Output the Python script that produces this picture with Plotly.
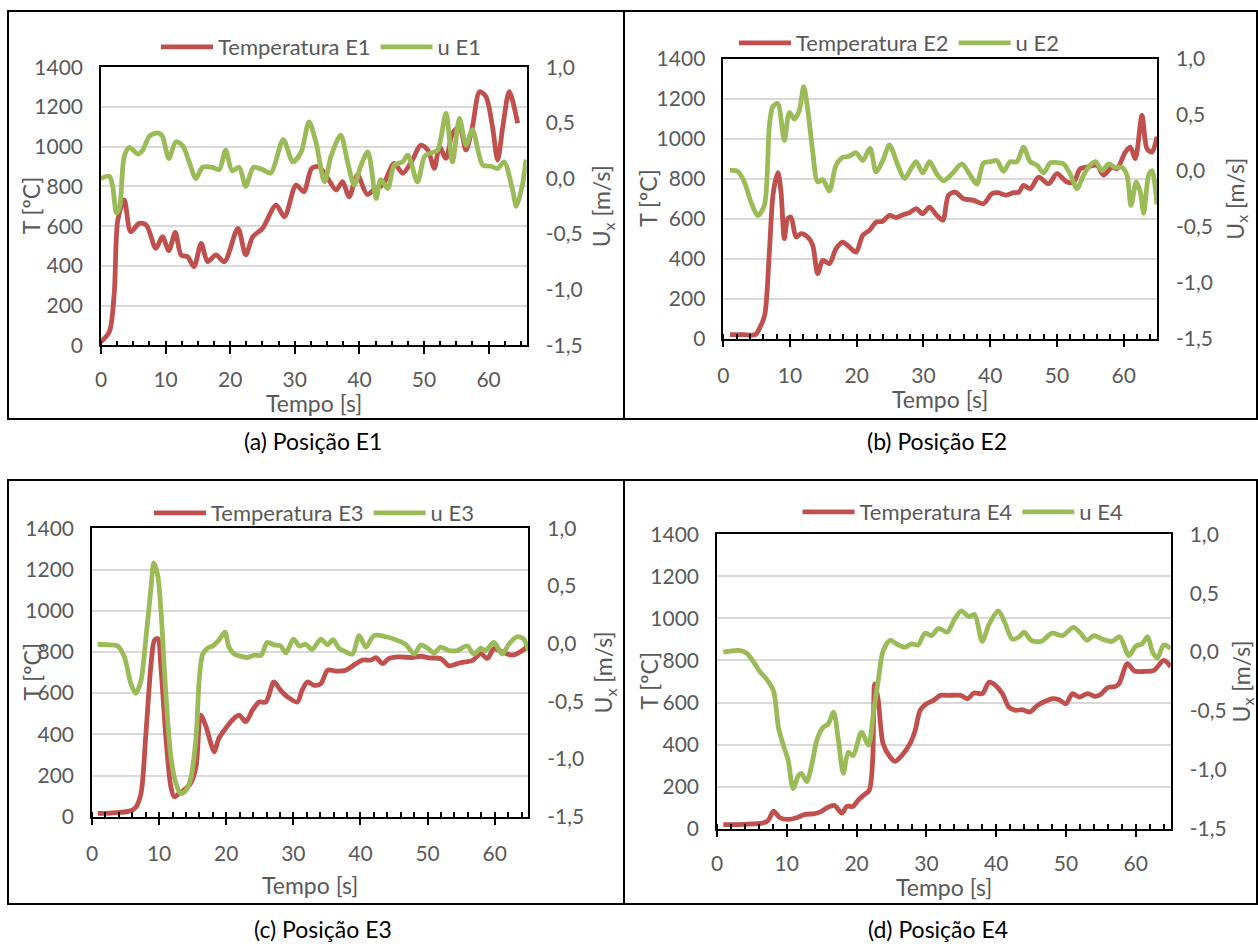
import plotly.graph_objects as go

W, H = 1258, 944
FONT = "Lato, 'Open Sans', sans-serif"
GRAY = "#595959"
RED = "#C0504D"
GREEN = "#9BBB59"

# ---------------- data ----------------
# Panel (a) Posição E1
t_a_temp = [0, 1.3, 2.05, 2.6, 3.6, 4.6, 5.9, 7.0, 8.5, 9.5, 10.5, 11.5, 12.4, 13.4, 14.4, 15.5, 16.5, 17.8,
            19.1, 21.2, 22.4, 23.5, 25.0, 27.1, 28.4, 30.2, 31.4, 32.6, 33.7, 35.1, 36.4, 37.4, 38.4, 39.7,
            41.2, 42.5, 43.6, 45.4, 46.7, 48.2, 49.5, 50.6, 51.6, 52.4, 53.4, 54.4, 55.5, 56.5, 57.5, 58.6,
            59.6, 60.6, 61.4, 62.2, 63.2, 64.5]
temp_a = [18, 69, 262, 631, 732, 572, 614, 606, 488, 547, 477, 569, 455, 446, 396, 513, 421, 455,
          421, 589, 455, 547, 589, 706, 648, 807, 774, 890, 900, 841, 782, 824, 748, 857,
          760, 790, 807, 916, 866, 933, 1008, 983, 891, 1000, 941, 1067, 1101, 983, 1101, 1277,
          1252, 1101, 933, 1101, 1277, 1118]
t_a_u = [0, 1.3, 1.8, 2.4, 2.9, 3.6, 4.4, 5.7, 6.45, 7.5, 8.8, 9.5, 10.5, 11.6, 12.7, 13.7, 14.7, 15.7,
         17.3, 18.3, 19.3, 20.3, 21.4, 22.4, 23.6, 25.0, 26.3, 28.2, 29.7, 31.0, 32.2, 33.3, 34.6, 35.6,
         37.1, 38.2, 39.2, 40.2, 41.3, 42.6, 43.3, 44.4, 45.4, 46.7, 47.5, 49.0, 50.1, 51.1, 52.1, 53.4,
         54.4, 55.5, 56.5, 57.5, 59.1, 60.4, 61.4, 62.4, 63.7, 64.3, 65.2, 65.8]
u_a = [0.0, 0.02, -0.07, -0.31, -0.25, 0.2, 0.28, 0.22, 0.255, 0.38, 0.41, 0.38, 0.18, 0.33, 0.29, 0.14, 0.0, 0.1,
       0.1, 0.08, 0.255, 0.07, 0.1, -0.07, 0.1, 0.08, 0.05, 0.35, 0.15, 0.24, 0.51, 0.32, -0.03, 0.2,
       0.39, 0.14, -0.06, 0.11, 0.24, -0.18, -0.01, -0.09, 0.12, 0.15, 0.21, -0.03, 0.2, 0.23, 0.255, 0.585,
       0.15, 0.54, 0.3, 0.44, 0.12, 0.11, 0.09, 0.15, -0.1, -0.25, -0.07, 0.17]

# Panel (b) Posição E2
t_b_temp = [1, 3, 4.8, 5.4, 6.2, 6.9, 7.5, 8.2, 8.65, 9.15, 9.65, 10.15, 10.9, 11.65, 12.65, 13.4, 14.15,
            14.9, 15.9, 16.9, 17.9, 18.9, 19.9, 20.9, 21.9, 22.9, 23.9, 24.9, 25.9, 26.9, 27.9, 28.9, 29.9,
            30.9, 32.0, 32.9, 33.75, 34.75, 36.0, 37.5, 39.0, 40.25, 41.2, 42.3, 43.5, 44.3, 45.0, 46.0, 47.25,
            48.75, 50.0, 51.5, 52.5, 53.5, 54.5, 56.0, 57.0, 58.25, 59.0, 60.25, 61.0, 61.75, 62.75, 63.5,
            64.25, 65.0]
temp_b = [20, 20, 20, 50, 117, 433, 733, 830, 733, 500, 600, 608, 508, 525, 508, 467, 325,
          392, 375, 450, 483, 458, 433, 517, 542, 583, 587, 617, 605, 620, 630, 650, 625,
          658, 617, 592, 717, 733, 700, 692, 675, 725, 730, 718, 730, 733, 767, 750, 808,
          775, 825, 783, 783, 850, 858, 867, 817, 858, 850, 933, 958, 900, 1117, 950,
          933, 1010]
t_b_u = [1, 2.15, 3.15, 4.15, 5.15, 6.15, 6.9, 7.4, 8.15, 9.15, 9.9, 10.65, 11.4, 12.05, 12.65, 13.4, 14.15,
         14.9, 15.9, 16.9, 17.9, 18.9, 19.9, 20.9, 22.0, 22.9, 23.9, 24.9, 26.15, 27.15, 28.15, 28.9, 29.9,
         30.9, 32.0, 33.0, 34.25, 35.75, 37.0, 38.0, 39.0, 40.0, 41.0, 42.0, 43.0, 44.0, 45.0, 46.0, 47.0,
         48.0, 49.0, 50.25, 51.0, 52.0, 53.0, 54.0, 55.0, 55.85, 56.75, 57.75, 58.75, 59.75, 60.5, 61.1,
         61.9, 62.5, 63.0, 63.75, 64.25, 65.0]
u_b = [0.003, -0.005, -0.10, -0.28, -0.40, -0.31, 0.40, 0.57, 0.60, 0.27, 0.52, 0.46, 0.54, 0.75, 0.55, 0.17, -0.10,
       -0.08, -0.18, 0.05, 0.12, 0.13, 0.16, 0.09, 0.20, -0.01, 0.09, 0.23, 0.05, -0.07, 0.02, 0.08, -0.02,
       0.08, -0.03, -0.09, -0.03, 0.06, -0.04, -0.12, 0.07, 0.08, 0.09, -0.005, 0.08, 0.08, 0.21, 0.08, 0.05,
       -0.02, 0.07, 0.07, 0.06, -0.03, -0.16, -0.04, 0.05, 0.08, 0.0, 0.06, 0.03, 0.03, -0.04, -0.31,
       -0.10, -0.19, -0.38, -0.04, 0.0, -0.30]

# Panel (c) Posição E3
t_c_temp = [0.85, 3.1, 5.6, 6.5, 7.3, 8.0, 8.8, 9.3, 9.8, 10.3, 11.0, 11.75, 12.25, 13.0, 13.7, 14.7, 15.5,
            16.2, 17.0, 17.7, 18.2, 18.9, 19.9, 20.9, 21.9, 22.9, 23.9, 24.9, 25.9, 27.1, 28.1, 29.1, 30.6,
            31.3, 32.1, 33.1, 34.1, 35.1, 36.3, 37.8, 39.0, 40.3, 41.5, 42.3, 43.3, 44.2, 45.7, 47.7, 49.0,
            50.2, 52.0, 53.2, 54.7, 56.7, 57.9, 58.9, 59.9, 61.1, 62.6, 63.8, 64.8]
temp_c = [16, 19, 27, 45, 113, 388, 743, 856, 865, 711, 388, 145, 97, 113, 129, 162, 242,
          493, 436, 356, 315, 380, 428, 469, 493, 461, 517, 557, 557, 654, 614, 582, 557,
          614, 654, 638, 646, 711, 707, 711, 736, 760, 760, 772, 743, 767, 776, 772, 779,
          771, 767, 732, 746, 759, 792, 768, 816, 800, 784, 800, 824]
t_c_u = [0.85, 2.6, 3.8, 4.8, 5.8, 6.5, 7.3, 8.0, 8.8, 9.2, 9.8, 10.3, 11.0, 11.75, 12.5, 13.2, 14.0, 14.7,
         15.5, 16.0, 16.5, 17.2, 18.0, 18.9, 19.8, 20.4, 21.2, 22.2, 23.2, 24.2, 25.2, 26.1, 27.1, 28.1,
         28.9, 30.0, 30.9, 31.85, 32.8, 34.1, 35.1, 35.9, 36.8, 37.8, 38.8, 39.8, 40.8, 42.0, 43.8, 45.2,
         46.7, 48.0, 49.0, 50.0, 51.0, 51.9, 53.2, 54.4, 55.9, 56.9, 57.9, 58.6, 59.9, 61.1, 62.1, 63.3,
         64.3, 65.0]
u_c = [-0.005, -0.01, -0.02, -0.11, -0.35, -0.43, -0.32, 0.03, 0.49, 0.70, 0.59, 0.26, -0.43, -0.98, -1.21, -1.30,
       -1.27, -1.17, -0.81, -0.29, -0.09, -0.04, -0.02, 0.03, 0.10, -0.03, -0.09, -0.11, -0.12, -0.10, -0.10,
       0.01, -0.01, -0.02, -0.08, 0.04, -0.02, -0.005, -0.05, 0.04, -0.01, 0.035, -0.04, -0.07, -0.09, 0.07,
       -0.03, 0.07, 0.06, 0.035, -0.005, -0.09, -0.01, -0.04, -0.08, -0.03, -0.06, -0.06, -0.02, -0.09, -0.04,
       -0.06, 0.01, -0.09, -0.005, 0.06, 0.04, -0.06]

# Panel (d) Posição E4
t_d_temp = [0.9, 3.8, 6.6, 7.35, 8.1, 9.0, 10.2, 11.4, 12.6, 13.8, 14.75, 15.7, 16.8, 17.9, 18.6, 19.5, 20.2,
            20.95, 21.8, 22.3, 22.6, 23.1, 23.8, 24.8, 25.5, 26.5, 27.65, 28.4, 29.1, 30.0, 31.0, 32.0, 33.2,
            34.9, 35.9, 36.8, 38.0, 39.0, 39.9, 40.9, 41.8, 42.8, 43.7, 44.8, 45.9, 47.1, 48.0, 49.0, 50.0,
            50.9, 51.9, 53.1, 54.2, 55.0, 55.9, 57.1, 57.6, 58.8, 59.8, 61.2, 62.6, 64.0, 65.0]
temp_d = [19, 21, 27, 40, 84, 52, 44, 52, 68, 71, 79, 98, 111, 74, 106, 106, 135,
          158, 182, 325, 689, 610, 404, 341, 320, 349, 404, 468, 563, 594, 610, 634, 634,
          634, 618, 645, 642, 697, 682, 642, 579, 563, 566, 555, 586, 607, 618, 613, 594,
          642, 626, 642, 629, 639, 670, 677, 689, 785, 750, 748, 753, 800, 770]
t_d_u = [0.9, 3.1, 4.25, 5.2, 6.2, 7.1, 8.1, 8.8, 9.5, 10.2, 10.9, 11.65, 12.1, 12.85, 13.6, 14.3, 15.2, 15.95,
         16.7, 17.4, 18.1, 18.8, 19.5, 20.7, 21.7, 22.4, 23.1, 23.8, 24.8, 25.7, 26.9, 27.9, 28.8, 29.8,
         30.75, 31.7, 33.0, 33.95, 35.0, 36.1, 36.9, 38.0, 39.0, 40.3, 41.2, 42.3, 43.3, 44.0, 45.0, 46.4,
         48.0, 49.5, 51.05, 52.1, 53.0, 54.0, 55.2, 56.6, 57.7, 59.0, 60.0, 60.9, 61.7, 62.4, 63.1, 64.0, 65.0]
u_d = [0.0, 0.014, -0.01, -0.08, -0.17, -0.23, -0.33, -0.64, -0.79, -0.92, -1.16, -1.05, -1.03, -1.10, -0.95,
       -0.75, -0.64, -0.61, -0.51, -0.75, -1.03, -0.85, -0.88, -0.68, -0.79, -0.52, -0.24, 0.01, 0.10, 0.07,
       0.04, 0.07, 0.06, 0.16, 0.14, 0.20, 0.17, 0.27, 0.35, 0.30, 0.32, 0.09, 0.24, 0.35, 0.255, 0.11, 0.13,
       0.17, 0.10, 0.09, 0.16, 0.14, 0.21, 0.16, 0.10, 0.14, 0.11, 0.09, 0.13, -0.03, 0.05, 0.07, 0.13, 0.0,
       -0.05, 0.06, 0.03]

temp_names = ["Temperatura E1", "Temperatura E2", "Temperatura E3", "Temperatura E4"]
u_names = ["u E1", "u E2", "u E3", "u E4"]
captions = ["(a) Posição E1", "(b) Posição E2", "(c) Posição E3", "(d) Posição E4"]
right_tickvals = [-1.5, -1.0, -0.5, 0.0, 0.5, 1.0]
right_ticktext = ["-1,5", "-1,0", "-0,5", "0,0", "0,5", "1,0"]
x_title = "Tempo [s]"
yl_title = "T [ºC]"
yr_title = "U<sub>x</sub> [m/s]"

series = [
    (t_a_temp, temp_a, t_a_u, u_a),
    (t_b_temp, temp_b, t_b_u, u_b),
    (t_c_temp, temp_c, t_c_u, u_c),
    (t_d_temp, temp_d, t_d_u, u_d),
]

# ---------------- geometry (pixels) ----------------
geo = [
    dict(l=101, r=526.7, t=67.3, b=345.3, xmax=65.9, major=5, minor=2.5, xls=8,
         leg=(321, 47), cap=(313, 441), box=(8, 11, 624, 419), xtop=389, rts=12, ylx=31),
    dict(l=723.3, r=1157, t=58.7, b=338.7, xmax=65, major=10, minor=2, xls=10,
         leg=(899, 43), cap=(937, 441), box=(624, 11, 1257, 419), xtop=385, rts=15, ylx=648),
    dict(l=92, r=528.3, t=528.3, b=816.7, xmax=65, major=10, minor=2, xls=10,
         leg=(314, 513), cap=(323, None), box=(8, 480, 624, 904), xtop=871, rts=12, ylx=31),
    dict(l=717, r=1170.7, t=534.3, b=828.7, xmax=65, major=10, minor=2, xls=8,
         leg=(963, 512), cap=(938, None), box=(624, 480, 1257, 904), xtop=873, rts=2, ylx=648),
]

TICK_SIZE = 21
TITLE_SIZE = 23
LEG_SIZE = 22
CAP_SIZE = 23
LW = 4.8

fig = go.Figure()
layout = dict(
    width=W, height=H, margin=dict(l=0, r=0, t=0, b=0, autoexpand=False),
    paper_bgcolor="white", plot_bgcolor="white",
    font=dict(family=FONT, color=GRAY, size=TICK_SIZE),
    shapes=[], annotations=[],
)

extra = 9
for i, (g, (tt, temp, tu, u)) in enumerate(zip(geo, series)):
    n = i + 1
    xa = f"x{n}" if n > 1 else "x"
    ya_l = f"y{2 * n - 1}" if n > 1 else "y"
    ya_r = f"y{2 * n}"
    leg = "legend" if n == 1 else f"legend{n}"

    fig.add_trace(go.Scatter(
        x=tt, y=temp, xaxis=xa, yaxis=ya_l, mode="lines", name=temp_names[i], legend=leg,
        line=dict(color=RED, width=LW, shape="spline", smoothing=0.8)))
    fig.add_trace(go.Scatter(
        x=tu, y=u, xaxis=xa, yaxis=ya_r, mode="lines", name=u_names[i], legend=leg,
        line=dict(color=GREEN, width=LW, shape="spline", smoothing=0.8)))

    xdom = [g["l"] / W, g["r"] / W]
    ydom = [1 - g["b"] / H, 1 - g["t"] / H]
    xkey = "xaxis" if n == 1 else f"xaxis{n}"
    ylkey = "yaxis" if n == 1 else f"yaxis{2 * n - 1}"
    yrkey = f"yaxis{2 * n}"

    layout[xkey] = dict(
        domain=xdom, anchor=ya_l, range=[0, g["xmax"]], automargin=False,
        tickmode="linear", tick0=0, dtick=10,
        ticks="outside", ticklen=7, tickwidth=2, tickcolor="black",
        minor=dict(dtick=g["minor"], tick0=0, ticks="inside", ticklen=5, tickwidth=1.5, tickcolor="black"),
        showline=True, linecolor="black", linewidth=1.5, mirror=True,
        showgrid=False, zeroline=False, ticklabelstandoff=g["xls"],
        tickfont=dict(size=TICK_SIZE, color=GRAY),
    )
    # overlay axes giving crossing major ticks (inner half, and outer half for 5 s ticks)
    layout[f"xaxis{4 + extra}"] = dict(
        overlaying=xa, anchor=ya_l, range=[0, g["xmax"]], automargin=False,
        tickmode="linear", tick0=0, dtick=g["major"],
        ticks="inside", ticklen=7, tickwidth=2, tickcolor="black",
        showticklabels=False, showline=False, showgrid=False, zeroline=False,
    )
    extra += 1
    if g["major"] != 10:
        layout[f"xaxis{4 + extra}"] = dict(
            overlaying=xa, anchor=ya_l, range=[0, g["xmax"]], automargin=False,
            tickmode="linear", tick0=0, dtick=g["major"],
            ticks="outside", ticklen=7, tickwidth=2, tickcolor="black",
            showticklabels=False, showline=False, showgrid=False, zeroline=False,
        )
        extra += 1
    layout[ylkey] = dict(
        domain=ydom, anchor=xa, range=[0, 1400], tickmode="linear", tick0=0, dtick=200,
        automargin=False,
        showgrid=True, gridcolor="#D9D9D9", gridwidth=1.5,
        showline=True, linecolor="black", linewidth=1.5, mirror=True,
        ticks="", zeroline=False, ticklabelstandoff=12,
        tickfont=dict(size=TICK_SIZE, color=GRAY),
    )
    layout[yrkey] = dict(
        overlaying=ya_l, anchor=xa, side="right", range=[-1.5, 1.0], automargin=False,
        tickmode="array", tickvals=right_tickvals, ticktext=right_ticktext,
        showgrid=False, zeroline=False, showline=False, ticks="", ticklabelstandoff=18,
        tickfont=dict(size=TICK_SIZE, color=GRAY),
        title=dict(text=yr_title, font=dict(size=TITLE_SIZE, color=GRAY), standoff=g["rts"]),
    )
    layout[leg] = dict(
        x=g["leg"][0] / W, y=1 - g["leg"][1] / H, xanchor="center", yanchor="middle",
        orientation="h", bgcolor="rgba(0,0,0,0)", font=dict(size=LEG_SIZE, color=GRAY),
        traceorder="normal", itemwidth=52,
    )
    # axis titles placed as in the reference (close to the tick labels)
    layout["annotations"].append(dict(
        text=yl_title, xref="paper", yref="paper", textangle=-90,
        x=g["ylx"] / W, y=1 - (g["t"] + g["b"]) / 2 / H, xanchor="center", yanchor="middle",
        showarrow=False, font=dict(size=TITLE_SIZE, color=GRAY)))
    layout["annotations"].append(dict(
        text=x_title, xref="paper", yref="paper",
        x=(g["l"] + g["r"]) / 2 / W, y=1 - g["xtop"] / H, xanchor="center", yanchor="top",
        showarrow=False, borderpad=0, borderwidth=0, font=dict(size=TITLE_SIZE, color=GRAY)))
    x0, y0, x1, y1 = g["box"]
    layout["shapes"].append(dict(
        type="rect", xref="paper", yref="paper",
        x0=x0 / W, x1=x1 / W, y0=1 - y1 / H, y1=1 - y0 / H,
        line=dict(color="black", width=2), fillcolor="rgba(0,0,0,0)", layer="below"))
    cx, cy = g["cap"]
    if cy is None:
        cap_pos = dict(y=0, yanchor="bottom")
    else:
        cap_pos = dict(y=1 - cy / H, yanchor="middle")
    layout["annotations"].append(dict(
        text=captions[i], xref="paper", yref="paper", x=cx / W, xanchor="center",
        showarrow=False, borderpad=0, font=dict(size=CAP_SIZE, color="black"), **cap_pos))

fig.update_layout(**layout)
fig.write_html("out.html")
